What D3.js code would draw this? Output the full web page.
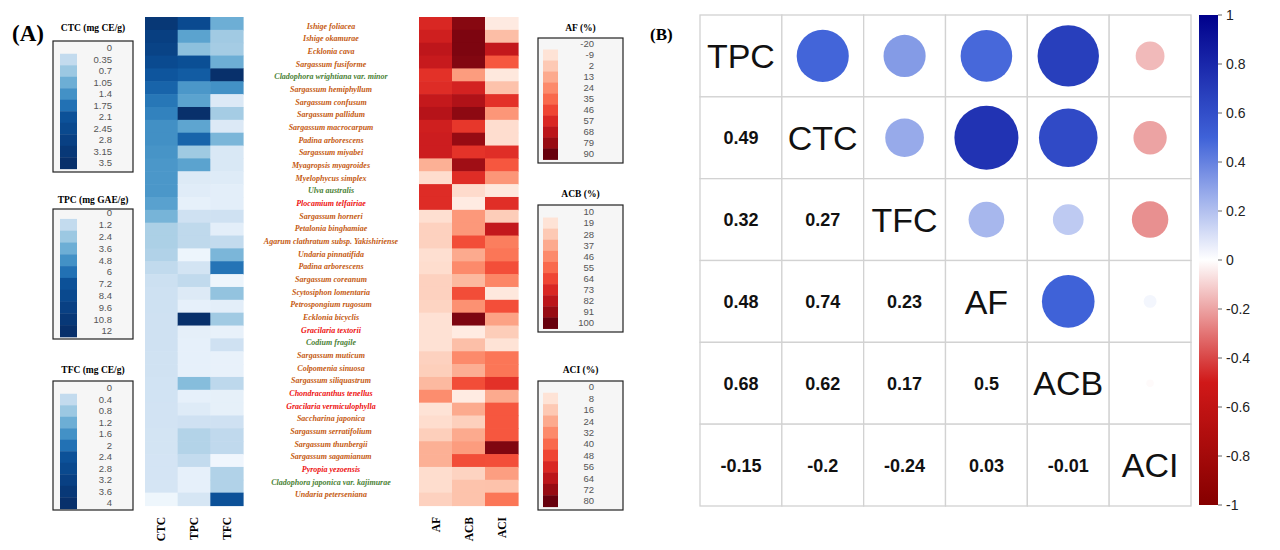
<!DOCTYPE html>
<html><head><meta charset="utf-8">
<script src="https://cdn.jsdelivr.net/npm/d3@7"></script>
<style>body{margin:0;background:#fff}svg{display:block}</style>
</head><body><svg id="c" width="1280" height="550"></svg>
<script>
// ---------- DATA ----------
const species = ["Ishige foliacea","Ishige okamurae","Ecklonia cava","Sargassum fusiforme","Cladophora wrightiana var. minor","Sargassum hemiphyllum","Sargassum confusum","Sargassum pallidum","Sargassum macrocarpum","Padina arborescens","Sargassum miyabei","Myagropsis myagroides","Myelophycus simplex","Ulva australis","Plocamium telfairiae","Sargassum horneri","Petalonia binghamiae","Agarum clathratum subsp. Yakishiriense","Undaria pinnatifida","Padina arborescens","Sargassum coreanum","Scytosiphon lomentaria","Petrospongium rugosum","Ecklonia bicyclis","Gracilaria textorii","Codium fragile","Sargassum muticum","Colpomenia sinuosa","Sargassum siliquastrum","Chondracanthus tenellus","Gracilaria vermiculophylla","Saccharina japonica","Sargassum serratifolium","Sargassum thunbergii","Sargassum sagamianum","Pyropia yezoensis","Cladophora japonica var. kajimurae","Undaria peterseniana"];
const algaeGroup = ["brown","brown","brown","brown","green","brown","brown","brown","brown","brown","brown","brown","brown","green","red","brown","brown","brown","brown","brown","brown","brown","brown","brown","red","green","brown","brown","brown","red","red","brown","brown","brown","brown","red","green","brown"];

const ctc = [3.4,3.3,3.25,3.15,3.0,2.8,2.55,2.4,2.2,2.2,2.15,2.1,2.1,2.1,1.95,1.65,1.15,1.15,1.1,0.9,0.75,0.72,0.72,0.7,0.7,0.7,0.68,0.68,0.66,0.66,0.65,0.65,0.64,0.63,0.62,0.62,0.6,0.15];
const tpc = [10.8,6.6,5.0,10.6,10.0,7.2,6.6,12.0,6.5,9.6,4.4,6.6,1.6,1.4,1.0,2.4,3.2,3.2,0.6,2.2,3.1,1.6,1.0,12.0,1.1,1.0,1.0,1.0,5.2,1.0,1.5,2.4,3.7,3.7,3.0,1.0,1.0,2.0];
const tfc = [2.0,1.45,1.4,2.0,4.0,2.5,0.55,1.4,0.55,1.85,0.6,0.6,0.5,0.4,0.4,0.8,0.4,1.0,1.85,2.95,0.2,1.6,0.4,1.45,0.3,0.8,0.3,0.3,1.1,0.35,0.35,0.8,1.05,1.05,0.15,1.25,1.25,3.5];
const af  = [57,61,67,64,53,55,65,70,61,62,62,11,-6,55,55,-7,-1,-1,-7,-6,-1,-1,-2,-8,-8,-8,-1,0,8,23,-9,-6,0,11,11,-6,-6,-1];
const acb = [94,96,96,95,41,75,85,93,68,91,69,89,71,22,15,42,42,62,37,46,33,62,44,96,15,31,46,36,62,15,37,26,37,41,62,25,30,30];
const aci = [5,19,62,44,6,18,53,29,10,10,54,44,29,6,54,15,62,35,37,46,33,6,46,26,15,8,37,37,53,24,44,44,44,76,46,27,18,37];

const ctcTicks = ["0","0.35","0.7","1.05","1.4","1.75","2.1","2.45","2.8","3.15","3.5"];
const tpcTicks = ["0","1.2","2.4","3.6","4.8","6","7.2","8.4","9.6","10.8","12"];
const tfcTicks = ["0","0.4","0.8","1.2","1.6","2","2.4","2.8","3.2","3.6","4"];
const afTicks  = ["-20","-9","2","13","24","35","46","57","68","79","90"];
const acbTicks = ["10","19","28","37","46","55","64","73","82","91","100"];
const aciTicks = ["0","8","16","24","32","40","48","56","64","72","80"];

const corrVars = ["TPC","CTC","TFC","AF","ACB","ACI"];
const corrLower = [
  [],
  [0.49],
  [0.32,0.27],
  [0.48,0.74,0.23],
  [0.68,0.62,0.17,0.5],
  [-0.15,-0.2,-0.24,0.03,-0.01]
];
const cbTicks = ["1","0.8","0.6","0.4","0.2","0","-0.2","-0.4","-0.6","-0.8","-1"];

// ---------- DRAW ----------
const svg = d3.select("#c");
const serif = "'Liberation Serif','Times New Roman',serif";
const sans = "'Liberation Sans',Arial,sans-serif";
const groupColor = {brown:"#c55a11", green:"#4a7f34", red:"#ee1111"};

svg.append("text").attr("x",12).attr("y",41).attr("font-family",serif).attr("font-weight","bold")
  .attr("font-size",23).text("(A)");
svg.append("text").attr("x",650).attr("y",40).attr("font-family",serif).attr("font-weight","bold")
  .attr("font-size",17).text("(B)");

const rowY = d3.scaleBand().domain(d3.range(species.length)).range([17,505.5]);

function heat(cols, series, tickSets, interp, x0, x1) {
  const x = d3.scaleBand().domain(cols).range([x0,x1]);
  const g = svg.append("g");
  cols.forEach((c,ci)=>{
    const dom = d3.extent(tickSets[ci].map(Number));
    const col = d3.scaleSequential(interp).domain(dom);
    g.selectAll(null).data(series[ci]).join("rect")
      .attr("x",x(c)).attr("y",(d,i)=>rowY(i))
      .attr("width",x.bandwidth()+0.6).attr("height",rowY.bandwidth()+0.6)
      .attr("fill",d=>col(d));
    svg.append("text")
      .attr("transform",`translate(${x(c)+x.bandwidth()/2+4},517) rotate(-90)`)
      .attr("text-anchor","end").attr("font-family",serif).attr("font-weight","bold")
      .attr("font-size",11.5).text(c);
  });
}
heat(["CTC","TPC","TFC"],[ctc,tpc,tfc],[ctcTicks,tpcTicks,tfcTicks],d3.interpolateBlues,145,243);
heat(["AF","ACB","ACI"],[af,acb,aci],[afTicks,acbTicks,aciTicks],d3.interpolateReds,419,518);

// species labels
const labY = d3.scalePoint().domain(d3.range(species.length)).range([26,494.5]);
svg.append("g").selectAll("text").data(species).join("text")
  .attr("x",331).attr("y",(d,i)=>labY(i)).attr("dy","0.35em")
  .attr("text-anchor","middle").attr("font-family",serif).attr("font-style","italic")
  .attr("font-weight","bold").attr("font-size",8)
  .attr("fill",(d,i)=>groupColor[algaeGroup[i]]).text(d=>d);

// legends
function legend(title, ticks, interp, tFn, o) {
  const g = svg.append("g");
  g.append("text").attr("x",(o.bx0+o.bx1)/2).attr("y",o.ty).attr("text-anchor","middle")
    .attr("font-family",serif).attr("font-weight","bold").attr("font-size",9.5).text(title);
  g.append("rect").attr("x",o.bx0).attr("y",o.by0).attr("width",o.bx1-o.bx0).attr("height",o.by1-o.by0)
    .attr("fill","#f6f6f6").attr("stroke","#222").attr("stroke-width",1.2);
  const y = d3.scalePoint().domain(ticks).range([o.l0,o.l1]);
  const sp = y.step();
  g.selectAll("rect.b").data(ticks.slice(1)).join("rect").attr("class","b")
    .attr("x",o.sx0).attr("width",o.sx1-o.sx0)
    .attr("y",d=>y(d)-sp/2).attr("height",sp+0.4)
    .attr("fill",(d,i)=>interp(tFn(i+1)));
  g.selectAll("text.t").data(ticks).join("text").attr("class","t")
    .attr("x",o.lx).attr("y",d=>y(d)).attr("dy","0.35em").attr("text-anchor","end")
    .attr("font-family",sans).attr("font-size",9.5).attr("fill","#555").text(d=>d);
}
const blueT = i => i<=6 ? 0.25+0.125*(i-1) : 0.875+(i-6)*0.03125;
const redT = i => i/10;
const bl = {bx0:53,bx1:133,sx0:60,sx1:77,lx:112};
const rd = {bx0:538,bx1:623,sx0:543,sx1:558,lx:594};
legend("CTC (mg CE/g)",ctcTicks,d3.interpolateBlues,blueT,{...bl,ty:31,by0:41,by1:172,l0:48,l1:163});
legend("TPC (mg GAE/g)",tpcTicks,d3.interpolateBlues,blueT,{...bl,ty:203,by0:209,by1:339,l0:213,l1:331});
legend("TFC (mg CE/g)",tfcTicks,d3.interpolateBlues,blueT,{...bl,ty:373,by0:381,by1:510,l0:388,l1:503});
legend("AF (%)",afTicks,d3.interpolateReds,redT,{...rd,ty:31,by0:38,by1:163,l0:44,l1:154});
legend("ACB (%)",acbTicks,d3.interpolateReds,redT,{...rd,ty:197,by0:205,by1:332,l0:212,l1:323});
legend("ACI (%)",aciTicks,d3.interpolateReds,redT,{...rd,ty:373,by0:381,by1:510,l0:387,l1:501});

// ---------- Panel B: correlation ----------
const cx = d3.scaleBand().domain(corrVars).range([700,1191]);
const cy = d3.scaleBand().domain(corrVars).range([15,506]);
const corrColor = d3.scaleLinear().domain([-1,-0.5,0,0.5,1])
  .range(["#850000","#d01818","#ffffff","#3f62d8","#00008b"]);
const rS = d3.scaleSqrt().domain([0,1]).range([0,cx.bandwidth()*0.455]);
const cells = [];
corrVars.forEach((rv,i)=>corrVars.forEach((cv,j)=>{
  let v = null;
  if (i>j) v = corrLower[i][j];
  else if (j>i) v = corrLower[j][i];
  cells.push({i,j,rv,cv,v});
}));
const gB = svg.append("g");
gB.selectAll("rect").data(cells).join("rect")
  .attr("x",d=>cx(d.cv)).attr("y",d=>cy(d.rv))
  .attr("width",cx.bandwidth()).attr("height",cy.bandwidth())
  .attr("fill","#fff").attr("stroke","#d2d2d2").attr("stroke-width",1.3);
gB.selectAll("circle").data(cells.filter(d=>d.j>d.i)).join("circle")
  .attr("cx",d=>cx(d.cv)+cx.bandwidth()/2).attr("cy",d=>cy(d.rv)+cy.bandwidth()/2)
  .attr("r",d=>rS(Math.abs(d.v))).attr("fill",d=>corrColor(d.v));
gB.selectAll("text.n").data(cells.filter(d=>d.i>d.j)).join("text").attr("class","n")
  .attr("x",d=>cx(d.cv)+cx.bandwidth()/2).attr("y",d=>cy(d.rv)+cy.bandwidth()/2)
  .attr("dy","0.36em").attr("text-anchor","middle").attr("font-family",sans)
  .attr("font-weight","bold").attr("font-size",18).attr("fill","#111").text(d=>d.v);
gB.selectAll("text.d").data(cells.filter(d=>d.i===d.j)).join("text").attr("class","d")
  .attr("x",d=>cx(d.cv)+cx.bandwidth()/2).attr("y",d=>cy(d.rv)+cy.bandwidth()/2)
  .attr("dy","0.36em").attr("text-anchor","middle").attr("font-family",sans)
  .attr("font-size",34).attr("fill","#111").text(d=>d.rv);

// colorbar
const cbY = d3.scaleLinear().domain([-1,1]).range([505,15]);
const grad = svg.append("defs").append("linearGradient").attr("id","cbg")
  .attr("x1",0).attr("y1",1).attr("x2",0).attr("y2",0);
d3.range(-1,1.0001,0.05).forEach(v=>{
  grad.append("stop").attr("offset",(v+1)/2).attr("stop-color",corrColor(v));
});
svg.append("rect").attr("x",1199).attr("y",15).attr("width",19).attr("height",490).attr("fill","url(#cbg)");
const cbG = svg.append("g");
cbG.selectAll("line").data(cbTicks).join("line")
  .attr("x1",1218).attr("x2",1222).attr("y1",d=>cbY(+d)).attr("y2",d=>cbY(+d))
  .attr("stroke","#666").attr("stroke-width",1);
cbG.selectAll("text").data(cbTicks).join("text")
  .attr("x",1226).attr("y",d=>cbY(+d)).attr("dy","0.35em")
  .attr("font-family",sans).attr("font-size",14).attr("fill","#222").text(d=>d);
</script></body></html>
